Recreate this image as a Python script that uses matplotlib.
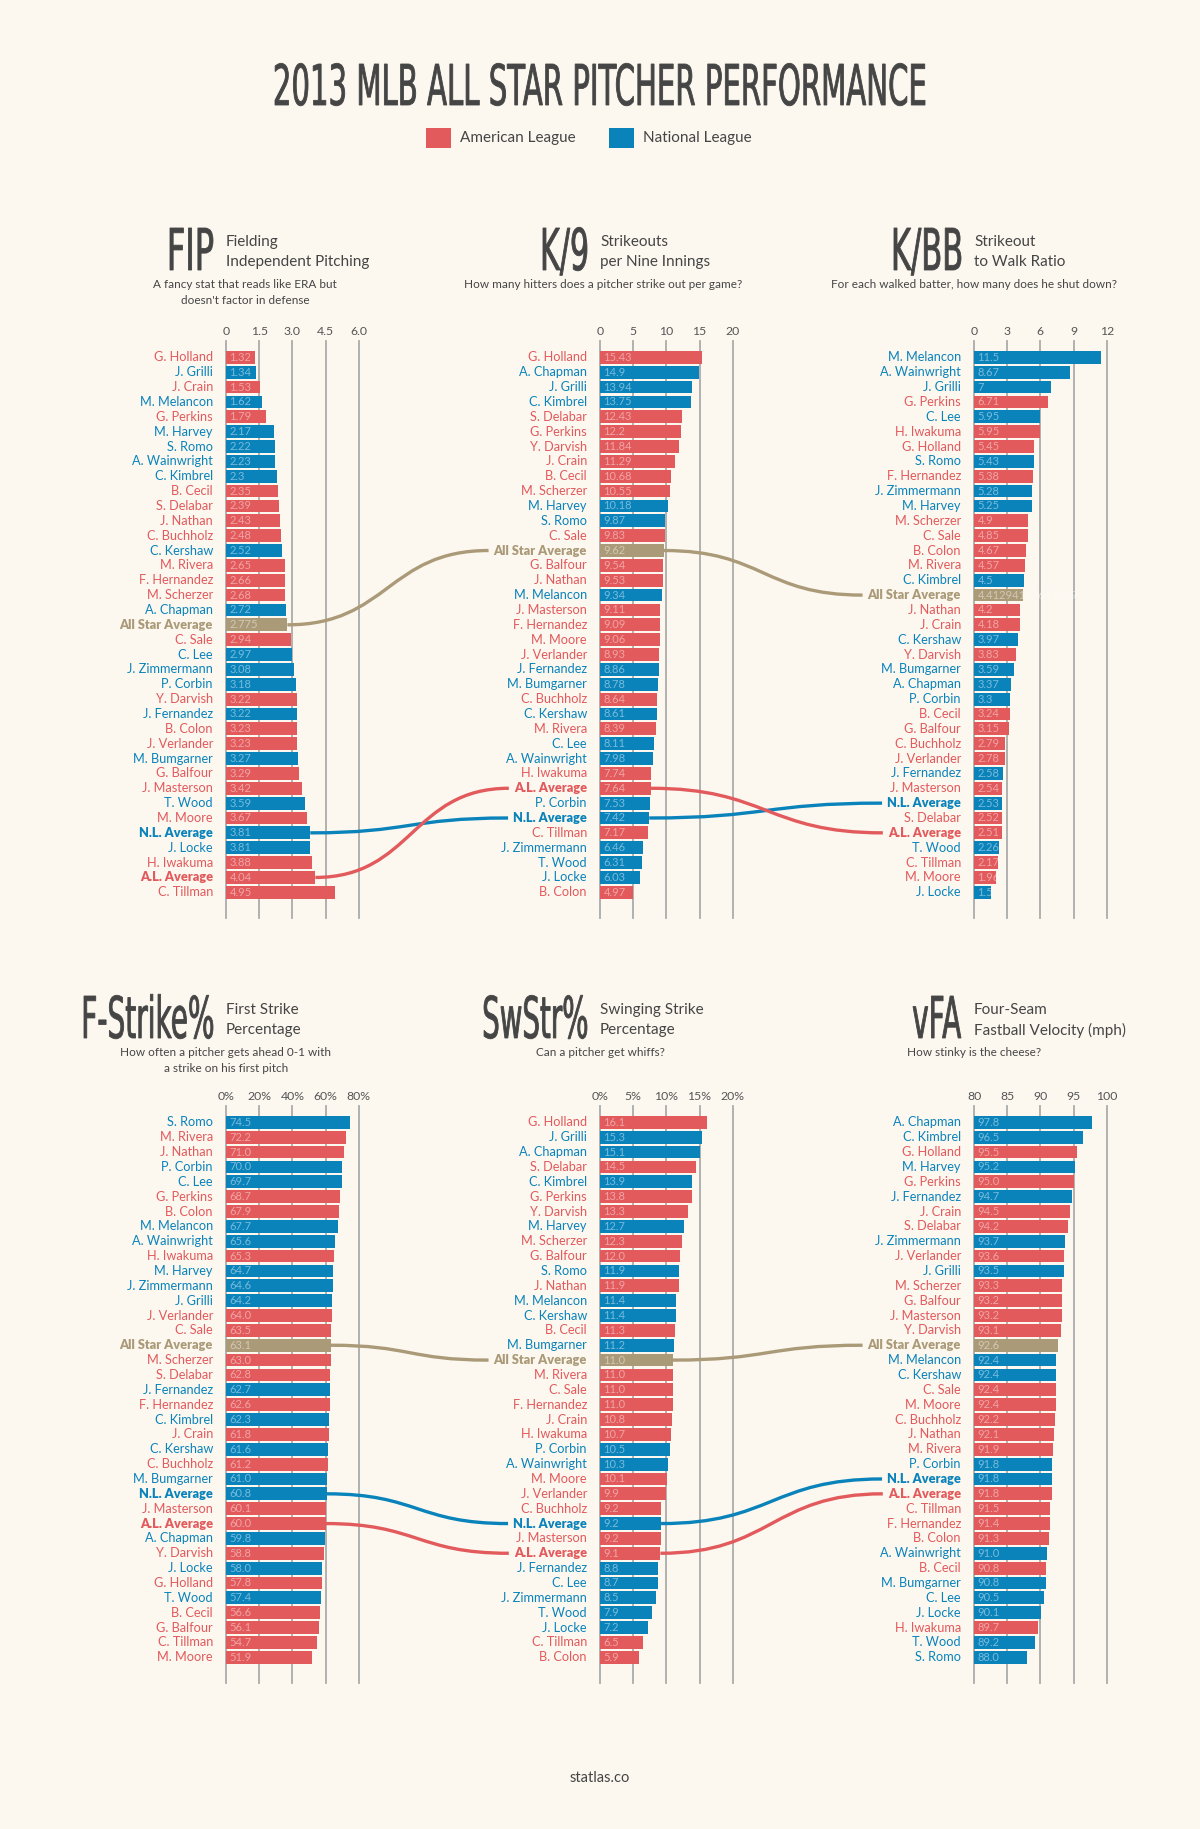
import matplotlib
matplotlib.use('Agg')
import matplotlib.pyplot as plt
from matplotlib import font_manager
from matplotlib.textpath import TextPath
from matplotlib.patches import PathPatch, Rectangle
from matplotlib.path import Path
from matplotlib.transforms import Affine2D

# ---- data -------------------------------------------------------------
AL = ['G. Holland', 'J. Crain', 'G. Perkins', 'B. Cecil', 'S. Delabar', 'J. Nathan',
      'C. Buchholz', 'M. Rivera', 'F. Hernandez', 'M. Scherzer', 'C. Sale', 'Y. Darvish',
      'B. Colon', 'J. Verlander', 'G. Balfour', 'J. Masterson', 'M. Moore', 'H. Iwakuma',
      'C. Tillman', 'A.L. Average']

fip_names = ['G. Holland', 'J. Grilli', 'J. Crain', 'M. Melancon', 'G. Perkins', 'M. Harvey',
             'S. Romo', 'A. Wainwright', 'C. Kimbrel', 'B. Cecil', 'S. Delabar', 'J. Nathan',
             'C. Buchholz', 'C. Kershaw', 'M. Rivera', 'F. Hernandez', 'M. Scherzer', 'A. Chapman',
             'All Star Average', 'C. Sale', 'C. Lee', 'J. Zimmermann', 'P. Corbin', 'Y. Darvish',
             'J. Fernandez', 'B. Colon', 'J. Verlander', 'M. Bumgarner', 'G. Balfour', 'J. Masterson',
             'T. Wood', 'M. Moore', 'N.L. Average', 'J. Locke', 'H. Iwakuma', 'A.L. Average', 'C. Tillman']
fip_vals = [1.32, 1.34, 1.53, 1.62, 1.79, 2.17, 2.22, 2.23, 2.3, 2.35, 2.39, 2.43, 2.48, 2.52,
            2.65, 2.66, 2.68, 2.72, 2.775, 2.94, 2.97, 3.08, 3.18, 3.22, 3.22, 3.23, 3.23, 3.27,
            3.29, 3.42, 3.59, 3.67, 3.81, 3.81, 3.88, 4.04, 4.95]

k9_names = ['G. Holland', 'A. Chapman', 'J. Grilli', 'C. Kimbrel', 'S. Delabar', 'G. Perkins',
            'Y. Darvish', 'J. Crain', 'B. Cecil', 'M. Scherzer', 'M. Harvey', 'S. Romo', 'C. Sale',
            'All Star Average', 'G. Balfour', 'J. Nathan', 'M. Melancon', 'J. Masterson',
            'F. Hernandez', 'M. Moore', 'J. Verlander', 'J. Fernandez', 'M. Bumgarner', 'C. Buchholz',
            'C. Kershaw', 'M. Rivera', 'C. Lee', 'A. Wainwright', 'H. Iwakuma', 'A.L. Average',
            'P. Corbin', 'N.L. Average', 'C. Tillman', 'J. Zimmermann', 'T. Wood', 'J. Locke', 'B. Colon']
k9_vals = [15.43, 14.9, 13.94, 13.75, 12.43, 12.2, 11.84, 11.29, 10.68, 10.55, 10.18, 9.87, 9.83,
           9.62, 9.54, 9.53, 9.34, 9.11, 9.09, 9.06, 8.93, 8.86, 8.78, 8.64, 8.61, 8.39, 8.11, 7.98,
           7.74, 7.64, 7.53, 7.42, 7.17, 6.46, 6.31, 6.03, 4.97]

kbb_names = ['M. Melancon', 'A. Wainwright', 'J. Grilli', 'G. Perkins', 'C. Lee', 'H. Iwakuma',
             'G. Holland', 'S. Romo', 'F. Hernandez', 'J. Zimmermann', 'M. Harvey', 'M. Scherzer',
             'C. Sale', 'B. Colon', 'M. Rivera', 'C. Kimbrel', 'All Star Average', 'J. Nathan',
             'J. Crain', 'C. Kershaw', 'Y. Darvish', 'M. Bumgarner', 'A. Chapman', 'P. Corbin',
             'B. Cecil', 'G. Balfour', 'C. Buchholz', 'J. Verlander', 'J. Fernandez', 'J. Masterson',
             'N.L. Average', 'S. Delabar', 'A.L. Average', 'T. Wood', 'C. Tillman', 'M. Moore', 'J. Locke']
kbb_vals = [11.5, 8.67, 7, 6.71, 5.95, 5.95, 5.45, 5.43, 5.38, 5.28, 5.25, 4.9, 4.85, 4.67, 4.57,
            4.5, 4.41294117647059, 4.2, 4.18, 3.97, 3.83, 3.59, 3.37, 3.3, 3.24, 3.15, 2.79, 2.78,
            2.58, 2.54, 2.53, 2.52, 2.51, 2.26, 2.17, 1.96, 1.5]

fstr_names = ['S. Romo', 'M. Rivera', 'J. Nathan', 'P. Corbin', 'C. Lee', 'G. Perkins', 'B. Colon',
              'M. Melancon', 'A. Wainwright', 'H. Iwakuma', 'M. Harvey', 'J. Zimmermann', 'J. Grilli',
              'J. Verlander', 'C. Sale', 'All Star Average', 'M. Scherzer', 'S. Delabar',
              'J. Fernandez', 'F. Hernandez', 'C. Kimbrel', 'J. Crain', 'C. Kershaw', 'C. Buchholz',
              'M. Bumgarner', 'N.L. Average', 'J. Masterson', 'A.L. Average', 'A. Chapman',
              'Y. Darvish', 'J. Locke', 'G. Holland', 'T. Wood', 'B. Cecil', 'G. Balfour',
              'C. Tillman', 'M. Moore']
fstr_vals = [74.5, 72.2, 71.0, 70.0, 69.7, 68.7, 67.9, 67.7, 65.6, 65.3, 64.7, 64.6, 64.2, 64.0,
             63.5, 63.1, 63.0, 62.8, 62.7, 62.6, 62.3, 61.8, 61.6, 61.2, 61.0, 60.8, 60.1, 60.0,
             59.8, 58.8, 58.0, 57.8, 57.4, 56.6, 56.1, 54.7, 51.9]

swstr_names = ['G. Holland', 'J. Grilli', 'A. Chapman', 'S. Delabar', 'C. Kimbrel', 'G. Perkins',
               'Y. Darvish', 'M. Harvey', 'M. Scherzer', 'G. Balfour', 'S. Romo', 'J. Nathan',
               'M. Melancon', 'C. Kershaw', 'B. Cecil', 'M. Bumgarner', 'All Star Average',
               'M. Rivera', 'C. Sale', 'F. Hernandez', 'J. Crain', 'H. Iwakuma', 'P. Corbin',
               'A. Wainwright', 'M. Moore', 'J. Verlander', 'C. Buchholz', 'N.L. Average',
               'J. Masterson', 'A.L. Average', 'J. Fernandez', 'C. Lee', 'J. Zimmermann', 'T. Wood',
               'J. Locke', 'C. Tillman', 'B. Colon']
swstr_vals = [16.1, 15.3, 15.1, 14.5, 13.9, 13.8, 13.3, 12.7, 12.3, 12.0, 11.9, 11.9, 11.4, 11.4,
              11.3, 11.2, 11.0, 11.0, 11.0, 11.0, 10.8, 10.7, 10.5, 10.3, 10.1, 9.9, 9.2, 9.2, 9.2,
              9.1, 8.8, 8.7, 8.5, 7.9, 7.2, 6.5, 5.9]

vfa_names = ['A. Chapman', 'C. Kimbrel', 'G. Holland', 'M. Harvey', 'G. Perkins', 'J. Fernandez',
             'J. Crain', 'S. Delabar', 'J. Zimmermann', 'J. Verlander', 'J. Grilli', 'M. Scherzer',
             'G. Balfour', 'J. Masterson', 'Y. Darvish', 'All Star Average', 'M. Melancon',
             'C. Kershaw', 'C. Sale', 'M. Moore', 'C. Buchholz', 'J. Nathan', 'M. Rivera', 'P. Corbin',
             'N.L. Average', 'A.L. Average', 'C. Tillman', 'F. Hernandez', 'B. Colon', 'A. Wainwright',
             'B. Cecil', 'M. Bumgarner', 'C. Lee', 'J. Locke', 'H. Iwakuma', 'T. Wood', 'S. Romo']
vfa_vals = [97.8, 96.5, 95.5, 95.2, 95.0, 94.7, 94.5, 94.2, 93.7, 93.6, 93.5, 93.3, 93.2, 93.2,
            93.1, 92.6, 92.4, 92.4, 92.4, 92.4, 92.2, 92.1, 91.9, 91.8, 91.8, 91.8, 91.5, 91.4,
            91.3, 91.0, 90.8, 90.8, 90.5, 90.1, 89.7, 89.2, 88.0]

fip_ticks = [0, 1.5, 3.0, 4.5, 6.0]
fip_ticklabels = ['0', '1.5', '3.0', '4.5', '6.0']
k9_ticks = [0, 5, 10, 15, 20]
k9_ticklabels = ['0', '5', '10', '15', '20']
kbb_ticks = [0, 3, 6, 9, 12]
kbb_ticklabels = ['0', '3', '6', '9', '12']
fstr_ticks = [0, 20, 40, 60, 80]
fstr_ticklabels = ['0%', '20%', '40%', '60%', '80%']
swstr_ticks = [0, 5, 10, 15, 20]
swstr_ticklabels = ['0%', '5%', '10%', '15%', '20%']
vfa_ticks = [80, 85, 90, 95, 100]
vfa_ticklabels = ['80', '85', '90', '95', '100']

# ---- style ------------------------------------------------------------
W, H = 1200, 1829
BG = '#fcf8f0'
RED = '#e25a5c'
BLUE = '#0a83bb'
TAN = '#ab9a78'
INK = '#454545'
GRID = '#ababab'

installed = {f.name for f in font_manager.fontManager.ttflist}
BODY = 'Lato' if 'Lato' in installed else 'DejaVu Sans'
NARROW = 'Liberation Sans Narrow' if 'Liberation Sans Narrow' in installed else 'DejaVu Sans'
plt.rcParams['font.family'] = [BODY, 'DejaVu Sans']


def colour(name):
    if name == 'All Star Average':
        return TAN
    return RED if name in AL else BLUE


fig = plt.figure(figsize=(W / 100, H / 100), dpi=100)
fig.patch.set_facecolor(BG)


def big_text(s, x, base, cap, anchor='right', width=None):
    # condensed headline text, drawn as a squeezed text path
    fp = font_manager.FontProperties(family=NARROW, weight='normal')
    tp = TextPath((0, 0), s, size=1, prop=fp)
    cap_unit = TextPath((0, 0), 'H', size=1, prop=fp).get_extents().y1
    ext = tp.get_extents()
    sy = cap / cap_unit
    sx = width / ext.width
    left = {'right': x - width, 'center': x - width / 2, 'left': x}[anchor]
    tr = (Affine2D().translate(-ext.x0, 0).scale(sx / W, sy / H)
          .translate(left / W, (H - base) / H) + fig.transFigure)
    fig.add_artist(PathPatch(tp, transform=tr, fc=INK, ec=INK, lw=0.6))


# title + legend
big_text('2013 MLB ALL STAR PITCHER PERFORMANCE', 600, 105, 41, 'center', width=650)
fig.add_artist(Rectangle((426 / W, 1 - 148 / H), 25 / W, 20 / H, transform=fig.transFigure,
                         color=RED, lw=0))
fig.text(460 / W, 1 - 138 / H, 'American League', va='center', fontsize=11, color=INK)
fig.add_artist(Rectangle((609 / W, 1 - 148 / H), 25 / W, 20 / H, transform=fig.transFigure,
                         color=BLUE, lw=0))
fig.text(643 / W, 1 - 138 / H, 'National League', va='center', fontsize=11, color=INK)

# panel geometry (pixels)
COLS = [226, 600, 974]
AX_W = 132.7
AX_H = 577.3
ROW_TOPS = [340.7, 1105.7]
Y_TOP, Y_BOT = -1.12, 37.73

# (row, col, abbreviation, abbreviation width px, header lines, description, desc centre x, ...)
panels = [
    (0, 0, 'FIP', 43, ['Fielding', 'Independent Pitching'],
     ['A fancy stat that reads like ERA but', "doesn't factor in defense"], 245,
     fip_names, fip_vals, fip_ticks, fip_ticklabels, '%.15g'),
    (0, 1, 'K/9', 44, ['Strikeouts', 'per Nine Innings'],
     ['How many hitters does a pitcher strike out per game?'], 603,
     k9_names, k9_vals, k9_ticks, k9_ticklabels, '%.15g'),
    (0, 2, 'K/BB', 67, ['Strikeout', 'to Walk Ratio'],
     ['For each walked batter, how many does he shut down?'], 974,
     kbb_names, kbb_vals, kbb_ticks, kbb_ticklabels, '%.15g'),
    (1, 0, 'F-Strike%', 129, ['First Strike', 'Percentage'],
     ['How often a pitcher gets ahead 0-1 with', 'a strike on his first pitch'], 226,
     fstr_names, fstr_vals, fstr_ticks, fstr_ticklabels, '%.1f'),
    (1, 1, 'SwStr%', 103, ['Swinging Strike', 'Percentage'],
     ['Can a pitcher get whiffs?'], 600,
     swstr_names, swstr_vals, swstr_ticks, swstr_ticklabels, '%.1f'),
    (1, 2, 'vFA', 48, ['Four-Seam', 'Fastball Velocity (mph)'],
     ['How stinky is the cheese?'], 974,
     vfa_names, vfa_vals, vfa_ticks, vfa_ticklabels, '%.1f'),
]

info = {}
for r, c, abbr, abbr_w, head, desc, desc_x, names, vals, ticks, tlabels, fmt in panels:
    x0 = COLS[c]
    top = ROW_TOPS[r]
    head_base = 270 if r == 0 else 1038
    big_text(abbr, x0 - 13, head_base, 42, 'right', width=abbr_w)
    for k, line in enumerate(head):
        fig.text(x0 / W, 1 - (head_base - 28 + 20 * k) / H, line, va='center',
                 fontsize=11, color=INK)
    desc_y = 284 if r == 0 else 1052
    for k, line in enumerate(desc):
        fig.text(desc_x / W, 1 - (desc_y + 17 * k) / H, line, ha='center', va='center',
                 fontsize=8.5, color=INK)

    ax = fig.add_axes([x0 / W, (H - top - AX_H) / H, AX_W / W, AX_H / H])
    ax.set_facecolor('none')
    lo = ticks[0]
    rows = list(range(len(names)))
    cols = [colour(n) for n in names]
    ax.barh(rows, [v - lo for v in vals], left=lo, height=0.86, color=cols, zorder=2)
    ax.set_xlim(ticks[0], ticks[-1])
    ax.set_ylim(Y_BOT, Y_TOP)
    ax.set_xticks(ticks)
    ax.set_xticklabels(tlabels)
    ax.set_yticks([])
    ax.tick_params(axis='x', top=True, labeltop=True, bottom=False, labelbottom=False,
                   length=0, pad=3, labelsize=8.8, labelcolor='#555555')
    for sp in ax.spines.values():
        sp.set_visible(False)
    for t in ticks:
        ax.axvline(t, color=GRID, lw=1.3, zorder=1, clip_on=False)

    labels = {}
    for i, (n, v) in enumerate(zip(names, vals)):
        avg = 'Average' in n
        labels[n] = ax.annotate(n, (lo, i), xytext=(-9.4, 0), textcoords='offset points',
                                ha='right', va='center', fontsize=9.2, color=colour(n),
                                fontweight='heavy' if avg else 'normal', annotation_clip=False)
        ax.annotate(fmt % v, (lo, i), xytext=(2.4, 0), textcoords='offset points',
                    ha='left', va='center', fontsize=8, color='white', alpha=0.45,
                    zorder=3, annotation_clip=False)
    info[(r, c)] = (ax, names, vals, labels, lo)

# connector curves between the average bars
fig.canvas.draw()
renderer = fig.canvas.get_renderer()
to_fig = fig.transFigure.inverted()
for r in (0, 1):
    for c in (0, 1):
        ax_a, names_a, vals_a, _, _ = info[(r, c)]
        ax_b, names_b, _, labels_b, lo_b = info[(r, c + 1)]
        for avg in ['All Star Average', 'N.L. Average', 'A.L. Average']:
            ia = names_a.index(avg)
            ib = names_b.index(avg)
            xs, ys = ax_a.transData.transform((vals_a[ia], ia))
            bb = labels_b[avg].get_window_extent(renderer)
            xe = bb.x0 - 5
            ye = ax_b.transData.transform((lo_b, ib))[1]
            xm = (xs + xe) / 2
            pts = to_fig.transform([(xs, ys), (xm, ys), (xm, ye), (xe, ye)])
            path = Path(pts, [Path.MOVETO, Path.CURVE4, Path.CURVE4, Path.CURVE4])
            fig.add_artist(PathPatch(path, transform=fig.transFigure, fc='none',
                                     ec=colour(avg), lw=2.4, zorder=5))

fig.text(0.5, 1 - 1778 / H, 'statlas.co', ha='center', va='center', fontsize=10.5, color=INK)

plt.savefig('out.png', dpi=100, facecolor=BG)
